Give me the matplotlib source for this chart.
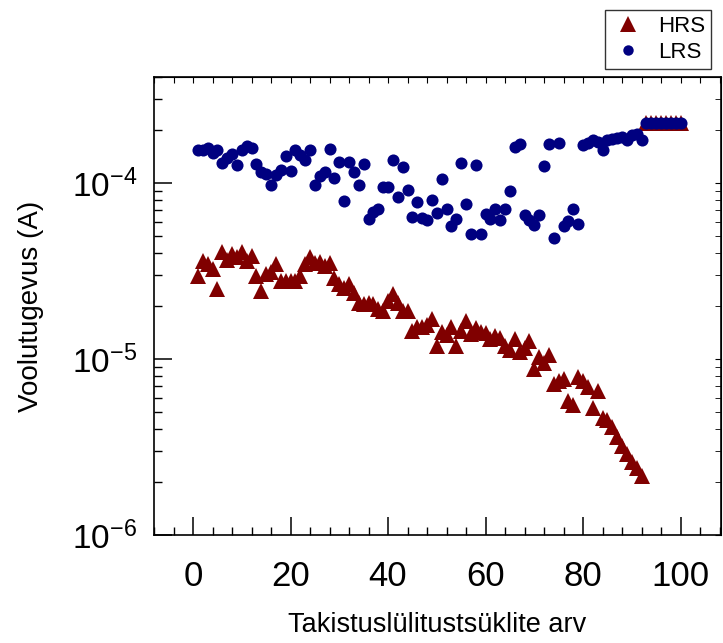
import matplotlib
matplotlib.use("Agg")
import matplotlib.pyplot as plt
from matplotlib.ticker import MultipleLocator, LogLocator, NullFormatter
from matplotlib.lines import Line2D
import numpy as np

plt.rcParams['font.family'] = ['Liberation Sans', 'DejaVu Sans']
plt.rcParams['axes.unicode_minus'] = False

# Switching cycle number
cycles = np.arange(1, 101)

# High resistance state current (A)
hrs = np.array([
    2.96, 3.60, 3.45, 3.23, 2.51, 4.05, 3.65, 3.94, 3.80, 4.05,
    3.60, 3.83, 2.96, 2.43, 3.03, 3.12, 3.45, 2.77, 2.77, 2.79,
    2.77, 2.96, 3.45, 3.81, 3.52, 3.55, 3.37, 3.50, 2.90, 2.66,
    2.54, 2.66, 2.38, 2.09, 2.05, 2.07, 2.05, 1.92, 1.88, 2.14,
    2.33, 2.09, 1.88, 1.88, 1.44, 1.51, 1.52, 1.55, 1.69, 1.19,
    1.42, 1.36, 1.52, 1.19, 1.45, 1.64, 1.39, 1.50, 1.42, 1.40,
    1.30, 1.35, 1.31, 1.19, 1.12, 1.30, 1.09, 1.15, 1.27, 0.88,
    1.02, 0.95, 1.05, 0.72, 0.75, 0.77, 0.58, 0.55, 0.79, 0.75,
    0.69, 0.53, 0.66, 0.46, 0.45, 0.41, 0.36, 0.32, 0.29, 0.26,
    0.24, 0.215, 22.0, 22.0, 22.0, 22.0, 22.0, 22.0, 22.0, 22.0,
]) * 1e-5

# Low resistance state current (A)
lrs = np.array([
    1.530, 1.530, 1.585, 1.486, 1.546, 1.300, 1.390, 1.467, 1.260, 1.546,
    1.630, 1.585, 1.290, 1.154, 1.120, 0.970, 1.105, 1.190, 1.416, 1.170,
    1.546, 1.435, 1.345, 1.532, 0.980, 1.090, 1.154, 1.566, 1.070, 1.315,
    0.787, 1.315, 1.154, 0.970, 1.290, 0.628, 0.685, 0.716, 0.949, 0.949,
    1.357, 0.833, 1.232, 0.909, 0.642, 0.780, 0.635, 0.615, 0.798, 0.671,
    1.059, 0.716, 0.568, 0.622, 1.304, 0.757, 0.512, 1.270, 0.512, 0.665,
    0.628, 0.716, 0.615, 0.710, 0.897, 1.600, 1.656, 0.660, 0.615, 0.575,
    0.660, 1.243, 1.656, 0.490, 1.685, 0.568, 0.609, 0.716, 0.583, 1.650,
    1.685, 1.760, 1.707, 1.546, 1.746, 1.785, 1.807, 1.820, 1.760, 1.863,
    1.888, 1.760, 2.200, 2.200, 2.200, 2.200, 2.200, 2.200, 2.200, 2.200,
]) * 1e-4

hrs_color = '#800000'
lrs_color = '#000080'

fig = plt.figure(figsize=(7.23, 6.43), dpi=100)
ax = fig.add_axes([154 / 723, 1 - 535 / 643, (721 - 154) / 723, (535 - 77) / 643])

ax.plot(cycles, hrs, linestyle='none', marker='^', markersize=11.5,
        color=hrs_color, markeredgewidth=0)
ax.plot(cycles, lrs, linestyle='none', marker='o', markersize=8.7,
        color=lrs_color, markeredgewidth=0)

ax.set_yscale('log')
ax.set_xlim(-8, 108.3)
ax.set_ylim(1e-6, 4e-4)

ax.xaxis.set_major_locator(MultipleLocator(20))
ax.xaxis.set_minor_locator(MultipleLocator(4))
ax.yaxis.set_major_locator(LogLocator(base=10, numticks=10))
ax.yaxis.set_minor_locator(LogLocator(base=10, subs=np.arange(2, 10), numticks=20))
ax.yaxis.set_minor_formatter(NullFormatter())

ax.tick_params(which='major', direction='in', length=13, width=1.1,
               labelsize=24)
ax.tick_params(axis='x', which='major', pad=18, labelsize=25)
ax.tick_params(axis='y', which='major', pad=12)
ax.tick_params(which='minor', direction='in', length=6, width=1.0)
for sp in ax.spines.values():
    sp.set_linewidth(1.2)

# short ticks on the top and right spines
top = ax.secondary_xaxis('top')
top.xaxis.set_major_locator(MultipleLocator(4))
top.tick_params(which='both', direction='in', length=4, labeltop=False)
right = ax.secondary_yaxis('right')
right.yaxis.set_major_locator(LogLocator(base=10, numticks=10))
right.yaxis.set_minor_locator(LogLocator(base=10, subs=np.arange(2, 10), numticks=20))
right.tick_params(which='both', direction='in', length=4, labelright=False)

ax.set_xlabel('Takistuslülitustsüklite arv', fontsize=19.5, labelpad=14)
ax.set_ylabel('Voolutugevus (A)', fontsize=20, labelpad=20)

handles = [
    Line2D([], [], linestyle='none', marker='^', markersize=11.5,
           color=hrs_color, markeredgewidth=0, label='HRS'),
    Line2D([], [], linestyle='none', marker='o', markersize=7.5,
           color=lrs_color, markeredgewidth=0, label='LRS'),
]
leg = fig.legend(handles=handles, loc='upper right',
                 bbox_to_anchor=(711 / 723, 1 - 10 / 643),
                 fontsize=16, frameon=True, fancybox=False,
                 edgecolor='black', borderpad=0.25, labelspacing=0.25,
                 handletextpad=0.55, handlelength=1.6, borderaxespad=0)
leg.get_frame().set_linewidth(1.0)

fig.savefig('out.png', dpi=100)
